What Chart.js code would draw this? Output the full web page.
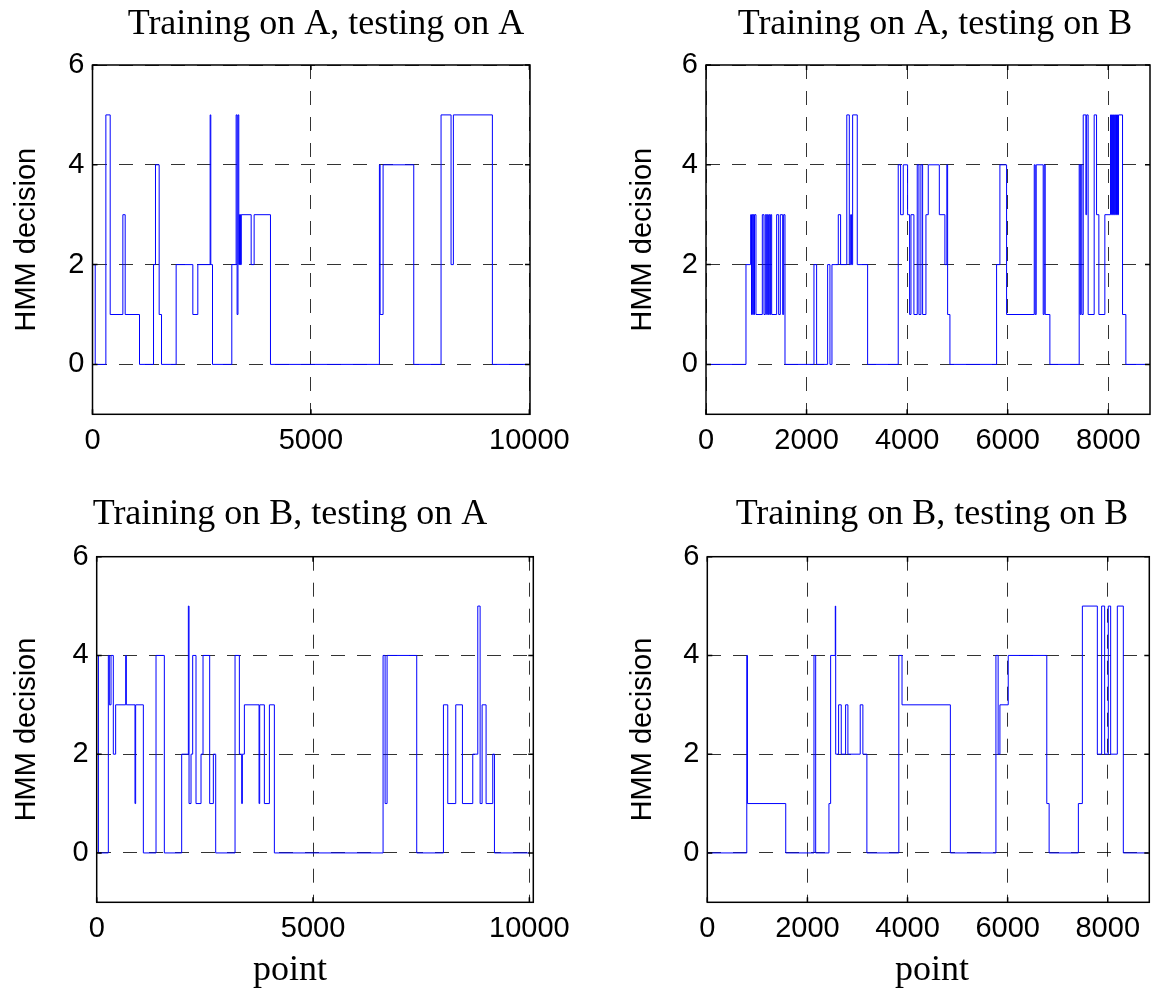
<!DOCTYPE html>
<html>
<head>
<meta charset="utf-8">
<script src="https://cdn.jsdelivr.net/npm/chart.js@4.4.1/dist/chart.umd.min.js"></script>
<style>
html, body { margin: 0; padding: 0; background: #fff; overflow: hidden; width: 1156px; height: 1000px; }
canvas { position: absolute; }
</style>
</head>
<body>
<canvas id="c1"></canvas>
<canvas id="c2"></canvas>
<canvas id="c3"></canvas>
<canvas id="c4"></canvas>
<script>
// ---------------- data ----------------
const panelTitles = [
  'Training on A, testing on A',
  'Training on A, testing on B',
  'Training on B, testing on A',
  'Training on B, testing on B'
];
const yAxisLabel = 'HMM decision';
const xAxisLabel = 'point';
const yTicks = [0, 2, 4, 6];
const xTicksA = [0, 5000, 10000];
const xTicksB = [0, 2000, 4000, 6000, 8000];
const xMaxA = 10015;
const xMaxB = 8830;

// [point index where the decision changes, new decision]
const decisionsAA = [
  [0,2],[62,0],[306,5],[405,1],[695,3],[748,1],[1076,0],[1397,2],[1442,4],[1526,1],
  [1580,0],[1915,2],[2297,1],[2411,2],[2693,5],[2708,2],[2747,0],[3189,2],[3288,5],[3310,1],
  [3330,5],[3349,2],[3364,3],[3375,2],[3385,3],[3395,2],[3405,3],[3632,2],[3700,3],[4074,0],
  [6568,4],[6584,1],[6652,4],[7354,0],[7979,5],[8208,2],[8261,5],[9154,0],[10000,0]
];
const decisionsAB = [
  [0,0],[795,2],[888,3],[905,1],[915,3],[930,1],[940,3],[955,1],[965,3],[994,1],
  [1120,3],[1153,1],[1180,3],[1206,1],[1220,3],[1240,1],[1255,3],[1270,1],[1285,3],[1306,1],
  [1405,3],[1445,1],[1478,3],[1525,1],[1544,3],[1571,0],[2147,2],[2200,0],[2419,2],[2465,0],
  [2505,2],[2631,3],[2677,2],[2800,5],[2850,2],[2877,3],[2895,2],[2916,5],[3008,2],[3214,0],
  [3823,4],[3870,3],[3923,4],[4009,3],[4049,1],[4076,3],[4135,1],[4201,4],[4235,1],[4274,4],
  [4308,1],[4374,3],[4420,4],[4640,3],[4751,2],[4790,4],[4805,1],[4851,0],[5779,2],[5845,4],
  [5978,1],[6528,4],[6547,1],[6567,4],[6706,1],[6726,4],[6746,1],[6839,0],[7422,4],[7440,1],
  [7455,4],[7475,1],[7502,5],[7555,3],[7570,5],[7600,1],[7720,5],[7767,3],[7813,1],[7932,3],
  [8045,5],[8065,3],[8085,5],[8105,3],[8125,5],[8145,3],[8164,5],[8184,3],[8204,5],[8284,1],
  [8350,0],[8830,0]
];
const decisionsBA = [
  [0,4],[40,0],[269,4],[292,3],[331,4],[384,2],[438,3],[670,4],[685,3],[885,1],
  [900,3],[1078,0],[1371,4],[1563,0],[1964,2],[2118,5],[2134,1],[2180,2],[2218,4],[2295,1],
  [2411,2],[2457,4],[2611,1],[2696,2],[2750,0],[3197,4],[3297,2],[3351,1],[3366,2],[3413,3],
  [3752,1],[3767,3],[3875,1],[3991,3],[4106,0],[6618,4],[6665,1],[6711,4],[7396,0],[8013,3],
  [8113,1],[8298,3],[8452,1],[8691,2],[8807,5],[8861,1],[8907,3],[8999,1],[9153,2],[9192,0],
  [10000,0]
];
const decisionsBB = [
  [0,0],[789,4],[802,1],[1567,0],[2131,4],[2165,0],[2430,1],[2464,4],[2557,5],[2565,2],
  [2623,3],[2676,2],[2763,3],[2809,2],[3055,3],[3108,2],[3188,0],[3826,4],[3890,3],[4856,0],
  [5766,4],[5810,2],[5846,3],[6012,4],[6782,1],[6829,0],[7413,1],[7493,5],[7792,2],[7878,5],
  [7938,2],[8011,5],[8058,2],[8191,5],[8311,0],[8810,0]
];

// ---------------- layout ----------------
const panels = [
  { id: 'c1', left: 0,   top: 0,   width: 652, height: 485, yW: 92.5, rW: 122,   xH: 70.7, tPad: {top: 2.5, bottom: 19.3}, yTitlePad: 10,   series: decisionsAA, title: panelTitles[0], xTicks: xTicksA, xMax: xMaxA, xLabel: false },
  { id: 'c2', left: 610, top: 0,   width: 650, height: 485, yW: 96,   rW: 110,   xH: 70.7, tPad: {top: 2.5, bottom: 19.3}, yTitlePad: 16,   series: decisionsAB, title: panelTitles[1], xTicks: xTicksB, xMax: xMaxB, xLabel: false },
  { id: 'c3', left: 0,   top: 470, width: 580, height: 522, yW: 96.7, rW: 46.7,  xH: 45,   tPad: {top: 23,  bottom: 20.5}, yTitlePad: 10,   series: decisionsBA, title: panelTitles[2], xTicks: xTicksA, xMax: 10090, xLabel: true },
  { id: 'c4', left: 610, top: 470, width: 644, height: 522, yW: 97.3, rW: 104.7, xH: 45,   tPad: {top: 23,  bottom: 20.5}, yTitlePad: 16,   series: decisionsBB, title: panelTitles[3], xTicks: xTicksB, xMax: xMaxB, xLabel: true }
];

const SANS = "'Liberation Sans', Arial, sans-serif";
const SERIF = "'Liberation Serif', 'Times New Roman', serif";

const boxPlugin = {
  id: 'matlabBox',
  afterDraw(chart) {
    const { ctx, chartArea: a, scales } = chart;
    const xs = scales.x, ys = scales.y;
    ctx.save();
    ctx.setLineDash([]);
    ctx.strokeStyle = '#000';
    ctx.lineWidth = 1.5;
    ctx.strokeRect(a.left, a.top, a.right - a.left, a.bottom - a.top);
    const tl = 5;
    ctx.beginPath();
    xs.ticks.forEach(t => {
      const px = xs.getPixelForValue(t.value);
      ctx.moveTo(px, a.bottom); ctx.lineTo(px, a.bottom - tl);
      ctx.moveTo(px, a.top); ctx.lineTo(px, a.top + tl);
    });
    ys.ticks.forEach(t => {
      const py = ys.getPixelForValue(t.value);
      ctx.moveTo(a.left, py); ctx.lineTo(a.left + tl, py);
      ctx.moveTo(a.right, py); ctx.lineTo(a.right - tl, py);
    });
    ctx.stroke();
    ctx.restore();
  }
};

panels.forEach(p => {
  const cv = document.getElementById(p.id);
  cv.width = p.width; cv.height = p.height;
  cv.style.left = p.left + 'px'; cv.style.top = p.top + 'px';
  cv.style.width = p.width + 'px'; cv.style.height = p.height + 'px';

  new Chart(cv, {
    type: 'line',
    data: {
      datasets: [{
        data: p.series.map(([x, y]) => ({ x, y })),
        stepped: 'before',
        borderColor: '#0000ff',
        borderWidth: 1,
        pointRadius: 0,
        fill: false
      }]
    },
    options: {
      responsive: false,
      animation: false,
      devicePixelRatio: 1,
      layout: { padding: 0 },
      events: [],
      plugins: {
        legend: { display: false },
        tooltip: { enabled: false },
        title: {
          display: true,
          text: p.title,
          color: '#000',
          font: { family: SERIF, size: 36, weight: 'normal' },
          padding: p.tPad
        },
        subtitle: {
          display: p.xLabel,
          position: 'bottom',
          text: xAxisLabel,
          color: '#000',
          font: { family: SERIF, size: 36, weight: 'normal' },
          padding: { top: 1.5, bottom: 0 }
        }
      },
      scales: {
        x: {
          type: 'linear',
          min: 0,
          max: p.xMax,
          afterBuildTicks: s => { s.ticks = p.xTicks.map(v => ({ value: v })); },
          afterFit: s => { s.height = p.xH; },
          ticks: {
            color: '#000',
            font: { family: SANS, size: 29 },
            padding: 9,
            maxRotation: 0,
            autoSkip: false,
            callback: v => String(v)
          },
          grid: { color: 'rgba(0,0,0,0.8)', lineWidth: 1, drawTicks: false },
          border: { display: false, dash: [14, 12] }
        },
        y: {
          type: 'linear',
          min: -1,
          max: 6,
          afterBuildTicks: s => { s.ticks = yTicks.map(v => ({ value: v })); },
          afterFit: s => { s.width = p.yW; },
          ticks: {
            color: '#000',
            font: { family: SANS, size: 29 },
            padding: 8,
            callback: v => String(v)
          },
          grid: { color: 'rgba(0,0,0,0.8)', lineWidth: 1, drawTicks: false },
          border: { display: false, dash: [14, 12] },
          title: {
            display: true,
            text: yAxisLabel,
            color: '#000',
            font: { family: SANS, size: 29 },
            padding: { top: p.yTitlePad, bottom: 0 }
          }
        },
        yR: {
          type: 'linear',
          position: 'right',
          display: true,
          grid: { display: false },
          border: { display: false },
          ticks: { display: false },
          afterFit: s => { s.width = p.rW; }
        }
      }
    },
    plugins: [boxPlugin]
  });
});
</script>
</body>
</html>
